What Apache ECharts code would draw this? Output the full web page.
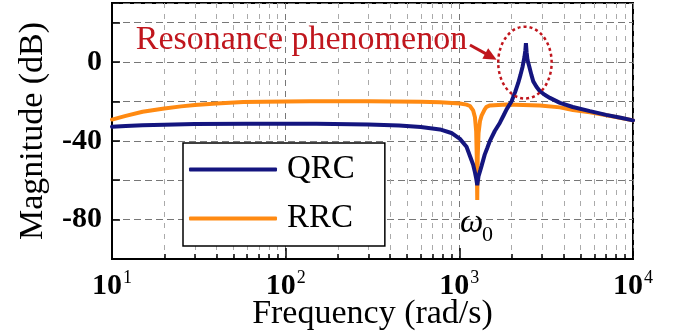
<!DOCTYPE html>
<html>
<head>
<meta charset="utf-8">
<script src="https://cdn.jsdelivr.net/npm/echarts@6/dist/echarts.min.js"></script>
<style>
html, body { margin: 0; padding: 0; background: #fff; }
#chart { width: 673px; height: 336px; }
</style>
</head>
<body>
<div id="chart"></div>
<script>
// QRC curve (rad/s, dB)
var qrcFreq = [10, 12, 15, 20, 30, 60, 150, 300, 450, 600, 773, 900, 1008, 1100, 1151, 1200, 1230, 1250, 1268, 1290, 1320, 1343, 1400, 1450, 1500, 1600, 1713, 1800, 1871, 2000, 2100, 2183, 2250, 2315, 2370, 2400, 2418, 2440, 2470, 2527, 2600, 2665, 2780, 2911, 3100, 3323, 3795, 4500, 5650, 7000, 8500, 10000];
var qrcMag = [-32.8, -32.4, -32.1, -31.8, -31.5, -31.3, -31.3, -31.7, -32.2, -33, -34.2, -36, -39, -43, -47.7, -52, -56, -59, -62.5, -58, -55, -52.7, -47, -43.5, -40, -35, -30.8, -27, -24, -19.9, -15, -10.6, -6.5, -2.2, 2.5, 6, 9.6, 5, 1, -2.2, -6.5, -9.8, -12.5, -14.8, -16.6, -18.2, -20.7, -22.8, -24.9, -26.8, -28.3, -29.6];

// RRC curve (rad/s, dB)
var rrcFreq = [10, 12, 15, 20, 25, 30, 40, 57, 75, 100, 138, 300, 600, 773, 1008, 1100, 1151, 1200, 1230, 1250, 1260, 1268, 1276, 1290, 1315, 1343, 1400, 1435, 1500, 1871, 2911, 3795, 4510, 5650, 7047, 10000];
var rrcMag = [-29.2, -27.3, -25.2, -23.6, -22.5, -21.8, -21, -20.3, -20.1, -20, -19.9, -19.9, -20.1, -20.4, -21, -21.6, -22.3, -24.5, -28, -35, -48, -70, -48, -36, -30, -27.2, -24, -22.7, -22, -21.5, -22, -23, -24.3, -25.5, -27, -29.6];

var minorTicks = [20, 30, 40, 50, 60, 70, 80, 90, 200, 300, 400, 500, 600, 700, 800, 900, 2000, 3000, 4000, 5000, 6000, 7000, 8000, 9000];
var yLabels = [0, -40, -80];

var serif = 'Liberation Serif';
var chart = echarts.init(document.getElementById('chart'));

function pairs(xs, ys) {
	return xs.map(function (x, i) { return [x, ys[i]]; });
}

var option = {
	animation: false,
	backgroundColor: '#fff',
	grid: {
		left: 112, right: 40, top: 3, bottom: 77,
		outerBoundsMode: 'none', containLabel: false,
		show: true, borderColor: '#000', borderWidth: 2
	},
	legend: {
		data: ['QRC', 'RRC'],
		orient: 'vertical',
		left: 183, top: 143,
		icon: 'roundRect',
		itemWidth: 88, itemHeight: 4,
		itemGap: 16,
		padding: [10, 30, 11, 6],
		backgroundColor: '#fff',
		borderColor: '#000', borderWidth: 1.5,
		textStyle: { fontFamily: serif, fontSize: 33, color: '#000', padding: [0, 0, 0, 5] }
	},
	xAxis: [
		{
			type: 'log', logBase: 10, min: 10, max: 10000,
			name: 'Frequency (rad/s)', nameLocation: 'middle', nameGap: 38, nameMoveOverlap: false,
			nameTextStyle: { fontFamily: serif, fontSize: 34, color: '#000' },
			axisLine: { onZero: false, lineStyle: { color: '#000', width: 2 } },
			axisTick: { inside: true, length: 11, lineStyle: { color: '#000', width: 1.5 } },
			axisLabel: {
				margin: 10,
				formatter: function (v) { return '{b|10}{s|' + Math.round(Math.log10(v)) + '}'; },
				rich: {
					b: { fontFamily: serif, fontWeight: 'bold', fontSize: 30, color: '#000' },
					s: { fontFamily: serif, fontSize: 18, color: '#000', padding: [0, 0, 16, 1] }
				}
			},
			splitLine: { show: true, lineStyle: { color: '#777', type: [6, 5], width: 1 } }
		},
		{
			type: 'value', min: 1, max: 4, position: 'bottom',
			axisLine: { show: false, onZero: false },
			axisLabel: { show: false },
			axisTick: { inside: true, length: 5, customValues: minorTicks.map(Math.log10), lineStyle: { color: '#000', width: 1.5 } },
			splitLine: { show: true, lineStyle: { color: '#aaa', type: [5, 6], width: 1 } }
		}
	],
	yAxis: {
		type: 'value', min: -100, max: 30, interval: 20,
		name: 'Magnitude (dB)', nameLocation: 'middle', nameGap: 62, nameMoveOverlap: false,
		nameTextStyle: { fontFamily: serif, fontSize: 34, color: '#000' },
		axisLine: { onZero: false, lineStyle: { color: '#000', width: 2 } },
		axisTick: { inside: true, length: 8, lineStyle: { color: '#000', width: 1.5 } },
		axisLabel: {
			margin: 10,
			fontFamily: serif, fontWeight: 'bold', fontSize: 30, color: '#000',
			formatter: function (v) { return yLabels.indexOf(v) >= 0 ? String(v) : ''; }
		},
		splitLine: { show: true, lineStyle: { color: '#777', type: [7, 4], width: 1 } }
	},
	series: [
		{
			name: 'RRC', type: 'line', xAxisIndex: 0, showSymbol: false,
			data: pairs(rrcFreq, rrcMag),
			itemStyle: { color: '#ff8a12' },
			lineStyle: { color: '#ff8a12', width: 4, cap: 'round' }
		},
		{
			name: 'QRC', type: 'line', xAxisIndex: 0, showSymbol: false,
			data: pairs(qrcFreq, qrcMag),
			itemStyle: { color: '#14157f' },
			lineStyle: { color: '#14157f', width: 4, cap: 'round' }
		}
	]
};

chart.setOption(option);

// annotations, placed from data coordinates
function px(f, db) { return chart.convertToPixel({ xAxisIndex: 0, yAxisIndex: 0 }, [f, db]); }

var red = '#c0161d';
var eTL = px(1675, 18), eBR = px(3400, -18.5);
var tail = px(1151, 8.7), tip = px(1640, 1.2);
var dx = tip[0] - tail[0], dy = tip[1] - tail[1], len = Math.sqrt(dx * dx + dy * dy);
var ux = dx / len, uy = dy / len;
var back = [tip[0] - ux * 13, tip[1] - uy * 13];
var txt = px(13.7, 11.3);
var w0 = px(1010, -82);

chart.setOption({
	graphic: [
		{
			type: 'ellipse', silent: true, z: 100,
			shape: { cx: (eTL[0] + eBR[0]) / 2, cy: (eTL[1] + eBR[1]) / 2, rx: (eBR[0] - eTL[0]) / 2, ry: (eBR[1] - eTL[1]) / 2 },
			style: { fill: null, stroke: red, lineWidth: 2.5, lineDash: [3, 3] }
		},
		{
			type: 'line', silent: true, z: 100,
			shape: { x1: tail[0], y1: tail[1], x2: back[0] + ux * 2, y2: back[1] + uy * 2 },
			style: { stroke: red, lineWidth: 3 }
		},
		{
			type: 'polygon', silent: true, z: 100,
			shape: { points: [tip, [back[0] - uy * 6, back[1] + ux * 6], [back[0] + uy * 6, back[1] - ux * 6]] },
			style: { fill: red }
		},
		{
			type: 'text', silent: true, z: 100, x: txt[0], y: txt[1],
			style: { text: 'Resonance phenomenon', fill: red, font: '34px "Liberation Serif"', textAlign: 'left', textVerticalAlign: 'middle' }
		},
		{
			type: 'text', silent: true, z: 100, x: w0[0], y: w0[1],
			style: { text: 'ω', fill: '#000', font: 'italic 33px "Liberation Serif"', textAlign: 'left', textVerticalAlign: 'middle' }
		},
		{
			type: 'text', silent: true, z: 100, x: w0[0] + 22, y: w0[1] + 11.5,
			style: { text: '0', fill: '#000', font: '22px "Liberation Serif"', textAlign: 'left', textVerticalAlign: 'middle' }
		}
	]
});
</script>
</body>
</html>
